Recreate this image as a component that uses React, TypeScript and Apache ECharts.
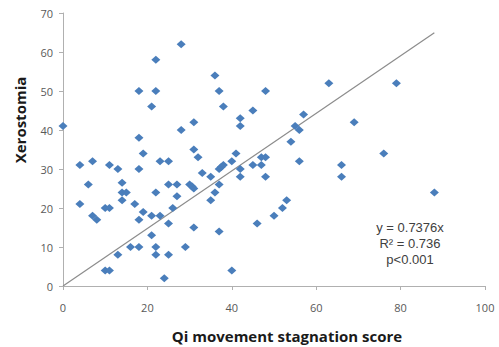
import React, { useEffect, useRef } from "react";
import * as echarts from "echarts";

const xTicks = { min: 0, max: 100, interval: 20 };
const yTicks = { min: 0, max: 70, interval: 10 };

const points: [number, number][] = [
  [0, 41], [4, 31], [4, 21], [6, 26], [7, 32], [7, 18], [8, 17], [10, 20], [11, 20],
  [11, 31], [13, 30], [10, 4], [11, 4], [13, 8], [14, 26.5], [14, 24], [15, 24], [14, 22],
  [16, 10], [18, 10], [17, 21], [18, 30], [18, 17], [19, 19], [19, 34], [18, 38], [18, 50],
  [21, 46], [22, 58], [22, 50], [21, 18], [21, 13], [22, 24], [22, 10], [22, 8], [23, 18],
  [23, 32], [24, 2], [25, 32], [25, 26], [25, 16], [25, 8], [26, 20], [27, 26], [27, 23],
  [28, 62], [28, 40], [29, 10], [30, 26], [30.6, 25.5], [31, 25], [31, 15], [31, 42], [31, 35],
  [32, 33], [33, 29], [35, 28], [35, 22], [36, 24], [37, 26], [37, 14], [36, 54], [37, 50],
  [38, 46], [37, 30], [37.5, 30.5], [38, 31], [40, 32], [41, 34], [40, 4], [42, 43], [42, 41],
  [42, 30], [42, 28], [45, 45], [45, 31], [47, 31], [47, 33], [48, 33], [48, 28], [48, 50],
  [46, 16], [50, 18], [52, 20], [53, 22], [54, 37], [55, 41], [56, 40], [57, 44], [56, 32],
  [63, 52], [66, 31], [66, 28], [69, 42], [76, 34], [79, 52], [88, 24],
];

const slope = 0.7376;
const lineXs = [0, 88];
const annotation = ["y = 0.7376x", "R\u00b2 = 0.736", "p<0.001"];
const xTitle = "Qi movement stagnation score";
const yTitle = "Xerostomia";

export default function App() {
  const ref = useRef<HTMLDivElement>(null);
  useEffect(() => {
    if (!ref.current) return;
    const chart = echarts.init(ref.current, null, { renderer: "svg" });
    const axisCommon = {
      axisLine: { show: true, onZero: false, lineStyle: { color: "#b0b0b0", width: 1 } },
      axisTick: { show: true, inside: false, length: 4, lineStyle: { color: "#b0b0b0" } },
      splitLine: { show: false },
    };
    chart.setOption({
      animation: false,
      backgroundColor: "#ffffff",
      grid: { left: 63, right: 14, top: 13, bottom: 61, containLabel: false },
      xAxis: {
        type: "value",
        ...xTicks,
        ...axisCommon,
        axisLabel: { color: "#595959", fontSize: 11, fontFamily: "Open Sans", margin: 16 },
      },
      yAxis: {
        type: "value",
        ...yTicks,
        ...axisCommon,
        axisLabel: { color: "#595959", fontSize: 11, fontFamily: "Open Sans", margin: 10 },
      },
      series: [
        {
          type: "line",
          data: lineXs.map((x) => [x, x * slope]),
          symbol: "none",
          lineStyle: { color: "#8c8c8c", width: 1.2 },
          z: 1,
        },
        {
          type: "scatter",
          data: points,
          symbol: "diamond",
          symbolSize: [9, 8],
          itemStyle: { color: "#4a7ebb", opacity: 1 },
          z: 2,
        },
      ],
      graphic: [
        {
          type: "text",
          x: 20,
          y: 120,
          rotation: Math.PI / 2,
          style: {
            text: yTitle,
            fontFamily: "Open Sans",
            fontWeight: "bold",
            fontSize: 15,
            fill: "#1a1a1a",
            align: "center",
            verticalAlign: "middle",
          },
        },
        {
          type: "text",
          x: 287,
          y: 336,
          style: {
            text: xTitle,
            fontFamily: "Open Sans",
            fontWeight: "bold",
            fontSize: 15,
            fill: "#1a1a1a",
            align: "center",
            verticalAlign: "middle",
          },
        },
        {
          type: "text",
          x: 410,
          y: 243,
          style: {
            text: annotation.join("\n"),
            fontFamily: "Liberation Sans",
            fontSize: 13,
            lineHeight: 16,
            fill: "#404040",
            align: "center",
            verticalAlign: "middle",
          },
        },
      ],
    });
    return () => chart.dispose();
  }, []);
  return (
    <div
      ref={ref}
      style={{ position: "absolute", left: 0, top: 0, width: 499, height: 347 }}
    />
  );
}
